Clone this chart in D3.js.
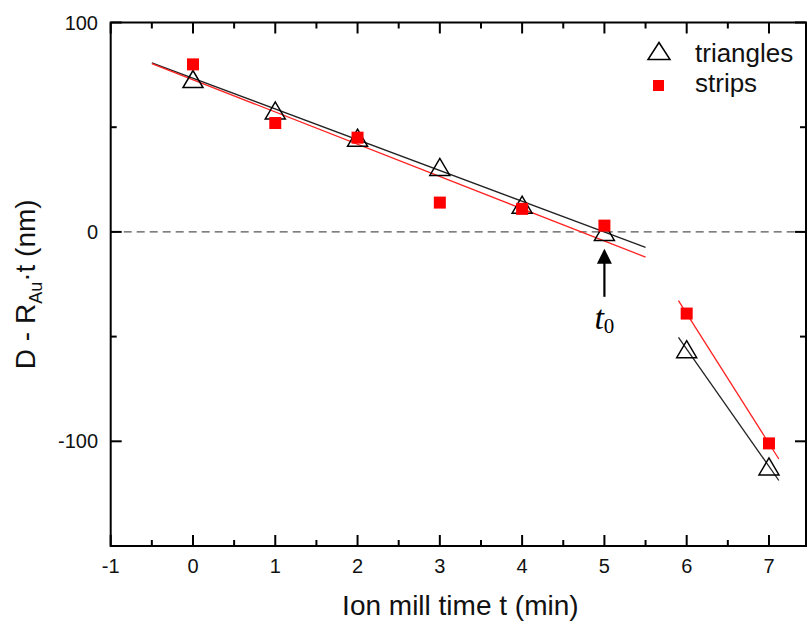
<!DOCTYPE html>
<html>
<head>
<meta charset="utf-8">
<script src="https://cdn.jsdelivr.net/npm/d3@7"></script>
<style>
  html, body { margin: 0; padding: 0; background: #fff; }
  svg { display: block; font-family: Arial, "Liberation Sans", Helvetica, sans-serif; }
</style>
</head>
<body>
<svg id="chart" width="807" height="625"></svg>
<script>
// Ion mill time (min)
const times = [0, 1, 2, 3, 4, 5, 6, 7];
// D - R_Au·t (nm) for the two sample geometries
const triangles = [73, 58, 45, 31, 13, 0, -56, -112];
const strips = [80, 52, 45, 14, 11, 3, -39, -101];

// Linear fits: first regime uses t = 0..5, second regime t = 6..7
const fitGroups = [[0, 1, 2, 3, 4, 5], [6, 7]];
const fitSpans = [[-0.5, 5.5], [5.9, 7.12]];

const xMajorTicks = [-1, 0, 1, 2, 3, 4, 5, 6, 7];
const xMinorTicks = [-0.5, 0.5, 1.5, 2.5, 3.5, 4.5, 5.5, 6.5];
const yMajorTicks = [100, 0, -100];
const yMinorTicks = [50, -50];

const t0 = 5;
const arrowSpan = [-31, -8];

const svg = d3.select("#chart");
const L = 110.7, R = 806, T = 22.5, B = 546;

const x = d3.scaleLinear().domain([-1, 7.45]).range([L, R]);
const y = d3.scaleLinear().domain([-150, 100]).range([B, T]);

// Zero reference line
svg.append("line")
  .attr("x1", L).attr("x2", R)
  .attr("y1", y(0)).attr("y2", y(0))
  .attr("stroke", "#555").attr("stroke-width", 1.4)
  .attr("stroke-dasharray", "8,5");

// Least-squares fit for a subset of points
function fit(xs, ys) {
  const mx = d3.mean(xs), my = d3.mean(ys);
  const sxy = d3.sum(xs, (v, i) => (v - mx) * (ys[i] - my));
  const sxx = d3.sum(xs, v => (v - mx) * (v - mx));
  const k = sxy / sxx;
  return { k, b: my - k * mx };
}

const series = [
  { name: "triangles", values: triangles, color: "#222" },
  { name: "strips", values: strips, color: "#f22" }
];

const line = d3.line().x(d => x(d[0])).y(d => y(d[1]));

series.forEach(s => {
  fitGroups.forEach((grp, gi) => {
    const xs = grp.map(i => times[i]);
    const ys = grp.map(i => s.values[i]);
    const f = fit(xs, ys);
    const pts = fitSpans[gi].map(v => [v, f.k * v + f.b]);
    svg.append("path")
      .attr("d", line(pts))
      .attr("fill", "none")
      .attr("stroke", s.color)
      .attr("stroke-width", 1.3);
  });
});

// Markers
const triPath = (cx, cy, w = 20, h = 17) =>
  `M${cx - w / 2},${cy + h / 2}L${cx + w / 2},${cy + h / 2}L${cx},${cy - h / 2}Z`;

svg.append("g").selectAll("path")
  .data(times.map((t, i) => [t, triangles[i]]))
  .join("path")
  .attr("d", d => triPath(x(d[0]), y(d[1])))
  .attr("fill", "none")
  .attr("stroke", "#000")
  .attr("stroke-width", 1.5);

const sq = 12;
svg.append("g").selectAll("rect")
  .data(times.map((t, i) => [t, strips[i]]))
  .join("rect")
  .attr("x", d => x(d[0]) - sq / 2)
  .attr("y", d => y(d[1]) - sq / 2)
  .attr("width", sq).attr("height", sq)
  .attr("fill", "#ff0000");

// Frame
svg.append("rect")
  .attr("x", L).attr("y", T)
  .attr("width", R - L).attr("height", B - T)
  .attr("fill", "none").attr("stroke", "#000").attr("stroke-width", 2);

const ticks = svg.append("g").attr("stroke", "#000").attr("stroke-width", 2);
const major = 11, minor = 6;
xMajorTicks.forEach(v => {
  ticks.append("line").attr("x1", x(v)).attr("x2", x(v)).attr("y1", B).attr("y2", B - major);
  ticks.append("line").attr("x1", x(v)).attr("x2", x(v)).attr("y1", T).attr("y2", T + major);
});
xMinorTicks.forEach(v => {
  ticks.append("line").attr("x1", x(v)).attr("x2", x(v)).attr("y1", B).attr("y2", B - minor);
  ticks.append("line").attr("x1", x(v)).attr("x2", x(v)).attr("y1", T).attr("y2", T + minor);
});
yMajorTicks.forEach(v => {
  ticks.append("line").attr("x1", L).attr("x2", L + major).attr("y1", y(v)).attr("y2", y(v));
  ticks.append("line").attr("x1", R).attr("x2", R - major).attr("y1", y(v)).attr("y2", y(v));
});
yMinorTicks.forEach(v => {
  ticks.append("line").attr("x1", L).attr("x2", L + minor).attr("y1", y(v)).attr("y2", y(v));
  ticks.append("line").attr("x1", R).attr("x2", R - minor).attr("y1", y(v)).attr("y2", y(v));
});

// Tick labels
svg.append("g").selectAll("text")
  .data(xMajorTicks).join("text")
  .attr("x", d => x(d)).attr("y", 573)
  .attr("text-anchor", "middle")
  .attr("font-size", 20).attr("fill", "#111")
  .text(d => d);

svg.append("g").selectAll("text")
  .data(yMajorTicks).join("text")
  .attr("x", 98).attr("y", d => y(d) + 7)
  .attr("text-anchor", "end")
  .attr("font-size", 20).attr("fill", "#111")
  .text(d => d);

// Axis titles
svg.append("text")
  .attr("x", (L + R) / 2 + 2).attr("y", 615)
  .attr("text-anchor", "middle")
  .attr("font-size", 28).attr("fill", "#111")
  .text("Ion mill time t (min)");

const yt = svg.append("text")
  .attr("transform", `translate(35,${(T + B) / 2}) rotate(-90)`)
  .attr("text-anchor", "middle")
  .attr("font-size", 28).attr("fill", "#111");
yt.append("tspan").text("D - R");
yt.append("tspan").attr("font-size", 18).attr("dy", 7).text("Au");
yt.append("tspan").attr("dy", -7).text("·t (nm)");

// Arrow marking t0
const ax = x(t0);
svg.append("line")
  .attr("x1", ax).attr("x2", ax)
  .attr("y1", y(arrowSpan[0])).attr("y2", y(arrowSpan[1]) + 12)
  .attr("stroke", "#000").attr("stroke-width", 2.2);
svg.append("path")
  .attr("d", `M${ax},${y(arrowSpan[1])}L${ax - 7.5},${y(arrowSpan[1]) + 15}L${ax + 7.5},${y(arrowSpan[1]) + 15}Z`)
  .attr("fill", "#000");

const tl = svg.append("text")
  .attr("x", ax - 10).attr("y", 329)
  .attr("font-family", "'Liberation Serif', 'Times New Roman', serif")
  .attr("fill", "#000");
tl.append("tspan").attr("font-size", 34).attr("font-style", "italic").text("t");
tl.append("tspan").attr("font-size", 21).attr("dy", 4).text("0");

// Legend
svg.append("path")
  .attr("d", triPath(659, 51, 22, 17))
  .attr("fill", "none").attr("stroke", "#000").attr("stroke-width", 1.5);
svg.append("rect")
  .attr("x", 653).attr("y", 80).attr("width", 11).attr("height", 11)
  .attr("fill", "#ff0000");
svg.append("text").attr("x", 695).attr("y", 62)
  .attr("font-size", 26).attr("fill", "#111").text("triangles");
svg.append("text").attr("x", 695).attr("y", 92)
  .attr("font-size", 26).attr("fill", "#111").text("strips");
</script>
</body>
</html>
